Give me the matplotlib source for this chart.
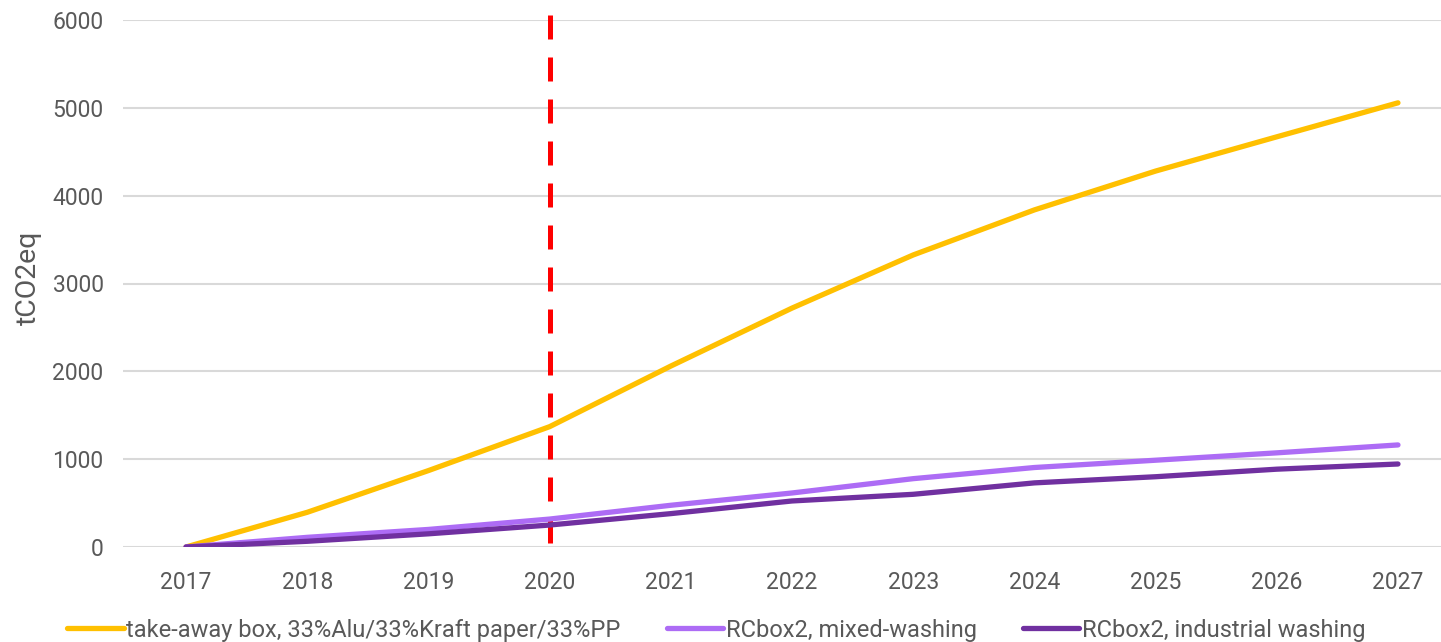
import matplotlib.pyplot as plt
import numpy as np

plt.rcParams.update({
    'font.family': ['Roboto', 'DejaVu Sans'],
    'axes.spines.top': False,
    'axes.spines.right': False,
    'axes.spines.left': False,
    'axes.spines.bottom': False,
})

GREY = '#595959'
GRID = '#D9D9D9'

years = ['2017', '2018', '2019', '2020', '2021', '2022', '2023', '2024', '2025', '2026', '2027']
takeaway = [0, 395, 870, 1370, 2060, 2720, 3325, 3838, 4280, 4670, 5057]
mixed = [0, 110, 200, 318, 475, 615, 778, 905, 988, 1072, 1162]
industrial = [0, 65, 150, 250, 380, 524, 600, 730, 800, 886, 945]

labels = ['take-away box, 33%Alu/33%Kraft paper/33%PP',
          'RCbox2, mixed-washing',
          'RCbox2, industrial washing']
colors = ['#FFC000', '#AD6CF5', '#7030A0']

fig = plt.figure(figsize=(14.41, 6.42), dpi=100)
ax = fig.add_axes([123 / 1441, 95 / 642, 1318 / 1441, 527 / 642])

x = np.arange(len(years))
for series, lab, col in zip([takeaway, mixed, industrial], labels, colors):
    ax.plot(x, series, color=col, lw=3.8, label=lab,
            solid_capstyle='round', solid_joinstyle='round')

# 2020 marker, dashes start at the top
ax.plot([3, 3], [6060, 0], color='#FF0000', lw=3.6, dashes=(4.8, 3.6),
        clip_on=False, zorder=1)

ax.set_xlim(-0.52, 10.355)
ax.set_ylim(0, 6000)
ax.set_yticks(range(0, 6001, 1000))
ax.set_xticks(x)
ax.set_xticklabels(years)
ax.yaxis.grid(True, color=GRID, lw=1.5)
ax.set_axisbelow(True)
ax.tick_params(axis='both', length=0, labelsize=16.5, labelcolor=GREY)
ax.tick_params(axis='x', pad=17)
ax.tick_params(axis='y', pad=14)
ax.set_ylabel('tCO2eq', fontsize=20.5, color=GREY)
ax.yaxis.set_label_coords(-0.0615, 0.51)

fig.legend(loc='center left', bbox_to_anchor=(46 / 1441, 12 / 642), ncol=3,
           frameon=False, fontsize=17, labelcolor=GREY,
           handlelength=2.4, handletextpad=0.1, columnspacing=1.95)

plt.savefig('out.png', dpi=100)
plt.close()
